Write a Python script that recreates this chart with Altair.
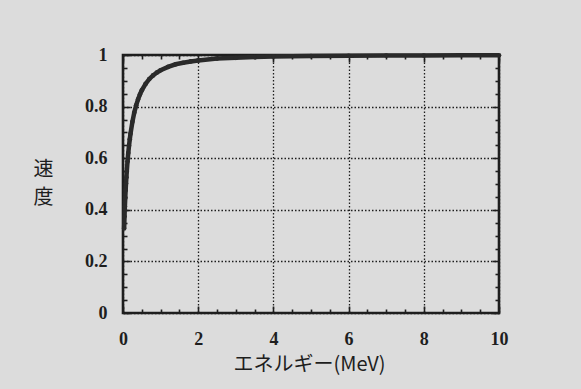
import altair as alt
import pandas as pd

# Energy (MeV) and speed (fraction of c)
energy = [0.03, 0.04, 0.05, 0.06, 0.07, 0.08, 0.09, 0.10, 0.12, 0.14, 0.16, 0.18,
          0.20, 0.25, 0.30, 0.35, 0.40, 0.45, 0.50, 0.60, 0.70, 0.80, 0.90, 1.0,
          1.2, 1.4, 1.6, 1.8, 2.0, 2.5, 3.0, 3.5, 4.0, 5.0, 6.0, 7.0, 8.0, 9.0, 10.0]
speed = [0.328, 0.374, 0.413, 0.446, 0.476, 0.502, 0.526, 0.548, 0.587, 0.620, 0.648, 0.673,
         0.695, 0.741, 0.777, 0.805, 0.828, 0.847, 0.863, 0.888, 0.907, 0.921, 0.932, 0.941,
         0.954, 0.964, 0.970, 0.975, 0.979, 0.986, 0.989, 0.992, 0.994, 0.996, 0.997, 0.998,
         0.998, 0.999, 0.999]

x_major = [0, 2, 4, 6, 8, 10]
x_minor = [0.5, 1, 1.5, 2.5, 3, 3.5, 4.5, 5, 5.5, 6.5, 7, 7.5, 8.5, 9, 9.5]
y_major = [0, 0.2, 0.4, 0.6, 0.8, 1]
y_minor = [0.05, 0.1, 0.15, 0.25, 0.3, 0.35, 0.45, 0.5, 0.55,
           0.65, 0.7, 0.75, 0.85, 0.9, 0.95]

x_title = "エネルギー(MeV)"
y_title = ["速", "度"]

df = pd.DataFrame({"E": energy, "v": speed})

BG = "#dcdcdc"
INK = "#1e1e1e"
xs = alt.Scale(domain=[0, 10], nice=False, zero=False)
ys = alt.Scale(domain=[0, 1], nice=False, zero=False)

base = alt.Chart(df)


def tick_axis(orient, values, size):
    return alt.Axis(orient=orient, values=values, tickSize=size, offset=-size,
                    labels=False, domain=False, grid=False, title=None,
                    tickColor=INK, tickWidth=1.6)


main_x = alt.Axis(orient="bottom", values=x_major, grid=True, gridColor=INK,
                  gridDash=[1.5, 2], gridWidth=1.3, gridOpacity=1,
                  ticks=False, tickSize=0, domain=False, format="d",
                  labelFont="Liberation Serif", labelFontSize=18, labelFontWeight="bold",
                  labelColor=INK, labelPadding=17, labelFlush=False,
                  title=x_title, titleFont="Noto Sans CJK JP", titleFontSize=20,
                  titleFontWeight="normal", titleColor=INK,
                  titleX=186, titleY=51, titleBaseline="middle", titleAlign="center")
main_y = alt.Axis(orient="left", values=y_major, grid=True, gridColor=INK,
                  gridDash=[1.5, 2], gridWidth=1.3, gridOpacity=1,
                  ticks=False, tickSize=0, domain=False, format="~g",
                  labelFont="Liberation Serif", labelFontSize=18, labelFontWeight="bold",
                  labelColor=INK, labelPadding=16, labelFlush=False,
                  title=y_title, titleFont="Noto Sans CJK JP", titleFontSize=20,
                  titleFontWeight="normal", titleColor=INK, titleAngle=0,
                  titleX=-80, titleY=114, titleBaseline="middle", titleAlign="center",
                  titleLineHeight=28)

line = base.mark_line(color="#2a2a2a", strokeWidth=4.5).encode(
    x=alt.X("E:Q", scale=xs, axis=main_x),
    y=alt.Y("v:Q", scale=ys, axis=main_y),
)
pts = base.mark_circle(color="#2a2a2a", size=22, opacity=1).encode(
    x=alt.X("E:Q", scale=xs, axis=tick_axis("bottom", x_major, 7)),
    y=alt.Y("v:Q", scale=ys, axis=tick_axis("left", y_major, 7)),
)
t2 = base.mark_point(opacity=0).encode(
    x=alt.X("E:Q", scale=xs, axis=tick_axis("bottom", x_minor, 4)),
    y=alt.Y("v:Q", scale=ys, axis=tick_axis("left", y_minor, 4)),
)
t3 = base.mark_point(opacity=0).encode(
    x=alt.X("E:Q", scale=xs, axis=tick_axis("top", x_major, 7)),
    y=alt.Y("v:Q", scale=ys, axis=tick_axis("right", y_major, 7)),
)
t4 = base.mark_point(opacity=0).encode(
    x=alt.X("E:Q", scale=xs, axis=tick_axis("top", x_minor, 4)),
    y=alt.Y("v:Q", scale=ys, axis=tick_axis("right", y_minor, 4)),
)

chart = alt.layer(line, pts, t2, t3, t4).resolve_axis(
    x="independent", y="independent"
).properties(
    width=376, height=258,
    autosize=alt.AutoSizeParams(type="none"),
    padding={"left": 123, "top": 55, "right": 82, "bottom": 76},
    background=BG,
).configure_view(
    stroke=INK, strokeWidth=2.6, fill=BG
)

chart.save("out.html", embed_options={"renderer": "svg", "actions": False})
